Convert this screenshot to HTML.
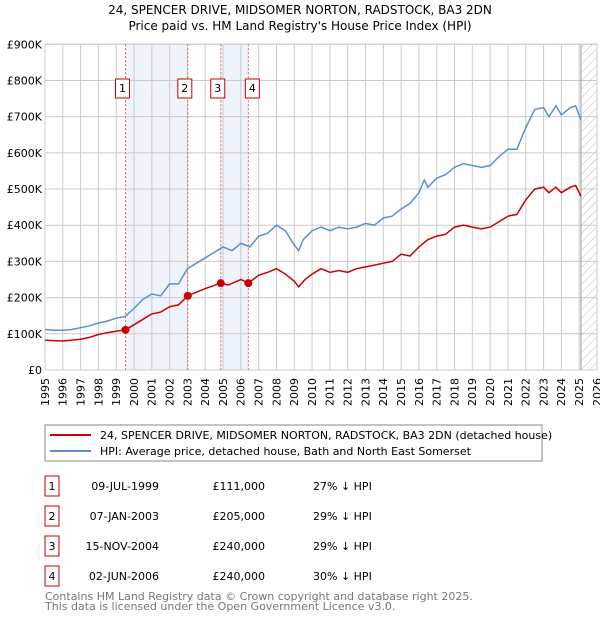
<!DOCTYPE html>
<html><head><meta charset="utf-8">
<style>
body{margin:0;background:#fff;font-family:"Liberation Sans","DejaVu Sans",sans-serif;}
svg{display:block}
text{font-family:"DejaVu Sans","Liberation Sans",sans-serif;}
</style></head>
<body>
<svg id="chart" width="600" height="620">
<text x="300" y="14" text-anchor="middle" font-size="12">24, SPENCER DRIVE, MIDSOMER NORTON, RADSTOCK, BA3 2DN</text>
<text x="300" y="30" text-anchor="middle" font-size="12">Price paid vs. HM Land Registry's House Price Index (HPI)</text>
<g id="plot"></g>
<rect x="45" y="425" width="497" height="36" fill="#fff" stroke="#888"/>
<line x1="50" y1="435" x2="91" y2="435" stroke="#cc0000" stroke-width="2"/>
<text x="100" y="439" font-size="11">24, SPENCER DRIVE, MIDSOMER NORTON, RADSTOCK, BA3 2DN (detached house)</text>
<line x1="50" y1="451" x2="91" y2="451" stroke="#5b8fd4" stroke-width="2"/>
<text x="100" y="455" font-size="11">HPI: Average price, detached house, Bath and North East Somerset</text>
<g id="table" font-size="11"></g>
<text x="45" y="600" font-size="11" fill="#777">Contains HM Land Registry data © Crown copyright and database right 2025.</text>
<text x="45" y="610" font-size="11" fill="#777">This data is licensed under the Open Government Licence v3.0.</text>
</svg>
<script>
const hpiYears=[1995,1995.5,1996,1996.5,1997,1997.5,1998,1998.5,1999,1999.5,2000,2000.5,2001,2001.5,2002,2002.5,2003,2003.5,2004,2004.5,2005,2005.5,2006,2006.5,2007,2007.5,2008,2008.5,2009,2009.25,2009.5,2010,2010.5,2011,2011.5,2012,2012.5,2013,2013.5,2014,2014.5,2015,2015.5,2016,2016.3,2016.5,2017,2017.5,2018,2018.5,2019,2019.5,2020,2020.5,2021,2021.5,2022,2022.5,2023,2023.3,2023.7,2024,2024.5,2024.8,2025.1];
const hpiValues=[112,110,110,112,117,122,130,135,143,148,170,195,210,205,238,238,280,295,310,325,340,330,350,340,370,378,400,385,345,330,360,385,395,385,395,390,395,405,400,420,425,445,460,490,525,505,530,540,560,570,565,560,565,590,610,610,670,720,725,700,730,705,725,730,690];
const propYears=[1995,1996,1997,1997.5,1998,1998.5,1999,1999.52,2000,2000.5,2001,2001.5,2002,2002.5,2003.02,2003.5,2004,2004.87,2005.3,2006,2006.42,2007,2007.5,2008,2008.5,2009,2009.25,2009.6,2010,2010.5,2011,2011.5,2012,2012.5,2013,2013.5,2014,2014.5,2015,2015.5,2016,2016.5,2017,2017.5,2018,2018.5,2019,2019.5,2020,2020.5,2021,2021.5,2022,2022.5,2023,2023.3,2023.7,2024,2024.5,2024.8,2025.1];
const propValues=[82,80,85,90,98,103,107,111,125,140,155,160,175,180,205,215,225,240,235,250,240,262,270,280,265,245,230,250,265,280,270,275,270,280,285,290,295,300,320,315,340,360,370,375,395,400,395,390,395,410,425,430,470,500,505,490,505,490,505,510,480];
const saleYears=[1999.52,2003.02,2004.87,2006.42];
const saleValues=[111,205,240,240];
const saleLabels=["1","2","3","4"];
const saleDates=["09-JUL-1999","07-JAN-2003","15-NOV-2004","02-JUN-2006"];
const salePrices=["£111,000","£205,000","£240,000","£240,000"];
const saleDiffs=["27% ↓ HPI","29% ↓ HPI","29% ↓ HPI","30% ↓ HPI"];
const yTicks=[0,100,200,300,400,500,600,700,800,900];
const yTickLabels=["£0","£100K","£200K","£300K","£400K","£500K","£600K","£700K","£800K","£900K"];
const xTicks=[1995,1996,1997,1998,1999,2000,2001,2002,2003,2004,2005,2006,2007,2008,2009,2010,2011,2012,2013,2014,2015,2016,2017,2018,2019,2020,2021,2022,2023,2024,2025,2026];

const NS="http://www.w3.org/2000/svg";
const L=45,R=597,T=44.3,B=370;
const x=v=>L+(v-1995)/(2026-1995)*(R-L);
const y=v=>B-v/900*(B-T);
const g=document.getElementById('plot');
function mk(tag,attrs,parent){const e=document.createElementNS(NS,tag);for(const k in attrs)e.setAttribute(k,attrs[k]);(parent||g).appendChild(e);return e;}
// shading
[[0,1],[2,3]].forEach(p=>{
 const r=mk('rect',{x:x(saleYears[p[0]]),y:T,width:x(saleYears[p[1]])-x(saleYears[p[0]]),height:B-T,fill:'#eef3fc'});
 
 
});
// grid
xTicks.forEach((t,i)=>{
 const l=mk('line',{x1:x(t),x2:x(t),y1:T,y2:B,stroke:'#ccc','stroke-width':1});
 
 
 const tx=mk('text',{x:x(t),y:B+8,'font-size':11,'text-anchor':'end',transform:`rotate(-90 ${x(t)} ${B+8})`,dy:'0.35em'});
 tx.textContent=t;
 
 
});
yTicks.forEach((t,i)=>{
 const l=mk('line',{x1:L,x2:R,y1:y(t),y2:y(t),stroke:'#ccc','stroke-width':1});
 
 
 const tx=mk('text',{x:L-3,y:y(t)+4,'font-size':11,'text-anchor':'end'});
 tx.textContent=yTickLabels[i];
 
 
});
// hatch future
const defs=mk('defs',{});
const pat=mk('pattern',{id:'hatch',width:6,height:6,patternUnits:'userSpaceOnUse',patternTransform:'rotate(45)'},defs);
mk('line',{x1:0,y1:0,x2:0,y2:6,stroke:'#bbb','stroke-width':1},pat);
const hr=mk('rect',{x:x(2025.1),y:T,width:R-x(2025.1),height:B-T,fill:'url(#hatch)'});


const hl=mk('line',{x1:x(2025.1),x2:x(2025.1),y1:T,y2:B,stroke:'#999','stroke-width':1});


const frame=mk('rect',{x:L,y:T,width:R-L,height:B-T,fill:'none',stroke:'#ccc'});


// sale vlines & labels
saleYears.forEach((s,i)=>{
 const l=mk('line',{x1:x(s),x2:x(s),y1:T,y2:B,stroke:'#e06060','stroke-width':1,'stroke-dasharray':'2,2'});
 
 
 const bx=x(s)-(i==0||i==1?3:-3)*0-7;
 const bxx=[x(s)-10,x(s)-10,x(s)-10,x(s)-3][i];
 const r=mk('rect',{x:bxx,y:79,width:14,height:19,fill:'#fff',stroke:'#cc0000'});
 
 
 const t=mk('text',{x:bxx+7,y:92,'font-size':11,'text-anchor':'middle'});
 t.textContent=saleLabels[i];
 
 
});
function path(xs,vs,color,name){
 const d=xs.map((v,i)=>(i?'L':'M')+x(v).toFixed(1)+','+y(vs[i]).toFixed(1)).join('');
 const p=mk('path',{d:d,fill:'none',stroke:color,'stroke-width':1.5});
 
 
}
path(hpiYears,hpiValues,'#5b8fd4','hpi-line');
path(propYears,propValues,'#cc0000','property-line');
saleYears.forEach((s,i)=>{
 const c=mk('circle',{cx:x(s),cy:y(saleValues[i]),r:4,fill:'#cc0000'});
 
 
});
// table
const tb=document.getElementById('table');
saleLabels.forEach((lab,i)=>{
 const cy=486+i*30;
 const r=mk('rect',{x:45,y:cy-10,width:14,height:20,fill:'#fff',stroke:'#cc0000'},tb);
 
 
 const vals=[[52,'middle',lab],[159,'end',saleDates[i]],[265,'end',salePrices[i]],[313,'start',saleDiffs[i]]];
 vals.forEach(v=>{
  const t=mk('text',{x:v[0],y:cy+4,'text-anchor':v[1]},tb);
  t.textContent=v[2];
  
  
 });
});
</script>
</body></html>
